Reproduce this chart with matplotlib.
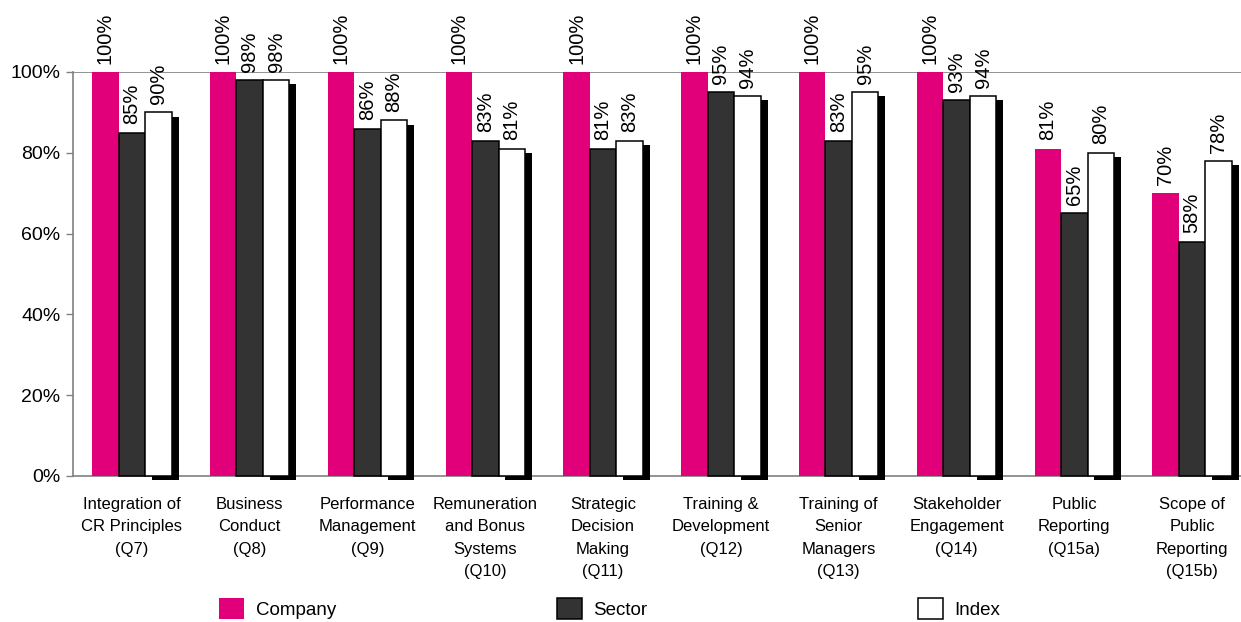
import matplotlib
matplotlib.use("Agg")
import matplotlib.pyplot as plt
import matplotlib.patheffects as pe
from matplotlib.patches import Patch
import numpy as np

categories = [
    "Integration of\nCR Principles\n(Q7)",
    "Business\nConduct\n(Q8)",
    "Performance\nManagement\n(Q9)",
    "Remuneration\nand Bonus\nSystems\n(Q10)",
    "Strategic\nDecision\nMaking\n(Q11)",
    "Training &\nDevelopment\n(Q12)",
    "Training of\nSenior\nManagers\n(Q13)",
    "Stakeholder\nEngagement\n(Q14)",
    "Public\nReporting\n(Q15a)",
    "Scope of\nPublic\nReporting\n(Q15b)",
]
company = [100, 100, 100, 100, 100, 100, 100, 100, 81, 70]
sector = [85, 98, 86, 83, 81, 95, 83, 93, 65, 58]
index = [90, 98, 88, 81, 83, 94, 95, 94, 80, 78]
series_names = ["Company", "Sector", "Index"]
yticks = [0, 20, 40, 60, 80, 100]

plt.rcParams['font.family'] = ['Liberation Sans', 'DejaVu Sans']

W, H = 1241, 622
fig = plt.figure(figsize=(W / 100, H / 100), dpi=100)
ax = fig.add_axes([73 / W, 146 / H, 1178 / W, 404 / H])

x = np.arange(len(categories))
bw = 0.225
magenta = "#E2007A"
dark = "#333333"
grey = "#808080"

b1 = ax.bar(x - bw, company, bw, color=magenta, edgecolor="none", clip_on=False, zorder=3)
b2 = ax.bar(x, sector, bw, color=dark, edgecolor="black", linewidth=1.1, clip_on=False, zorder=3)
b3 = ax.bar(x + bw, index, bw, color="white", edgecolor="black", linewidth=1.1, clip_on=False, zorder=3,
            path_effects=[pe.SimplePatchShadow(offset=(5, -3), shadow_rgbFace="black", alpha=1.0), pe.Normal()])

for bars, vals in ((b1, company), (b2, sector), (b3, index)):
    for rect, v in zip(bars, vals):
        ax.annotate(f"{v}%", (rect.get_x() + rect.get_width() / 2, v),
                    xytext=(0, 6), textcoords="offset points",
                    rotation=90, ha="center", va="bottom", fontsize=14.5, zorder=5)

ax.set_xlim(-0.5, len(categories) - 0.5)
ax.set_ylim(0, 100)
ax.set_yticks(yticks)
ax.set_yticklabels([f"{t}%" for t in yticks], fontsize=14)
ax.set_xticks(x)
ax.set_xticklabels(categories, fontsize=12, linespacing=1.62, va="top")
ax.tick_params(axis="x", length=0, pad=15)
ax.tick_params(axis="y", length=5, width=1, color=grey, pad=4)
ax.axhline(100, color=grey, linewidth=1.2, zorder=1)

for s in ("top", "right"):
    ax.spines[s].set_visible(False)
for s in ("left", "bottom"):
    ax.spines[s].set_color(grey)
    ax.spines[s].set_linewidth(1.2)

handles = [
    Patch(facecolor=magenta, edgecolor="none"),
    Patch(facecolor=dark, edgecolor="black", linewidth=1.1),
    Patch(facecolor="white", edgecolor="black", linewidth=1.1),
]
xs = [219, 557, 918]
for h, name, xp in zip(handles, series_names, xs):
    leg = fig.legend([h], [name], loc="center left", bbox_to_anchor=(xp / W, 13.5 / H),
                     frameon=False, fontsize=13.5, borderpad=0, borderaxespad=0,
                     handlelength=1.35, handleheight=1.4, handletextpad=0.6)

fig.savefig("out.png", dpi=100)
